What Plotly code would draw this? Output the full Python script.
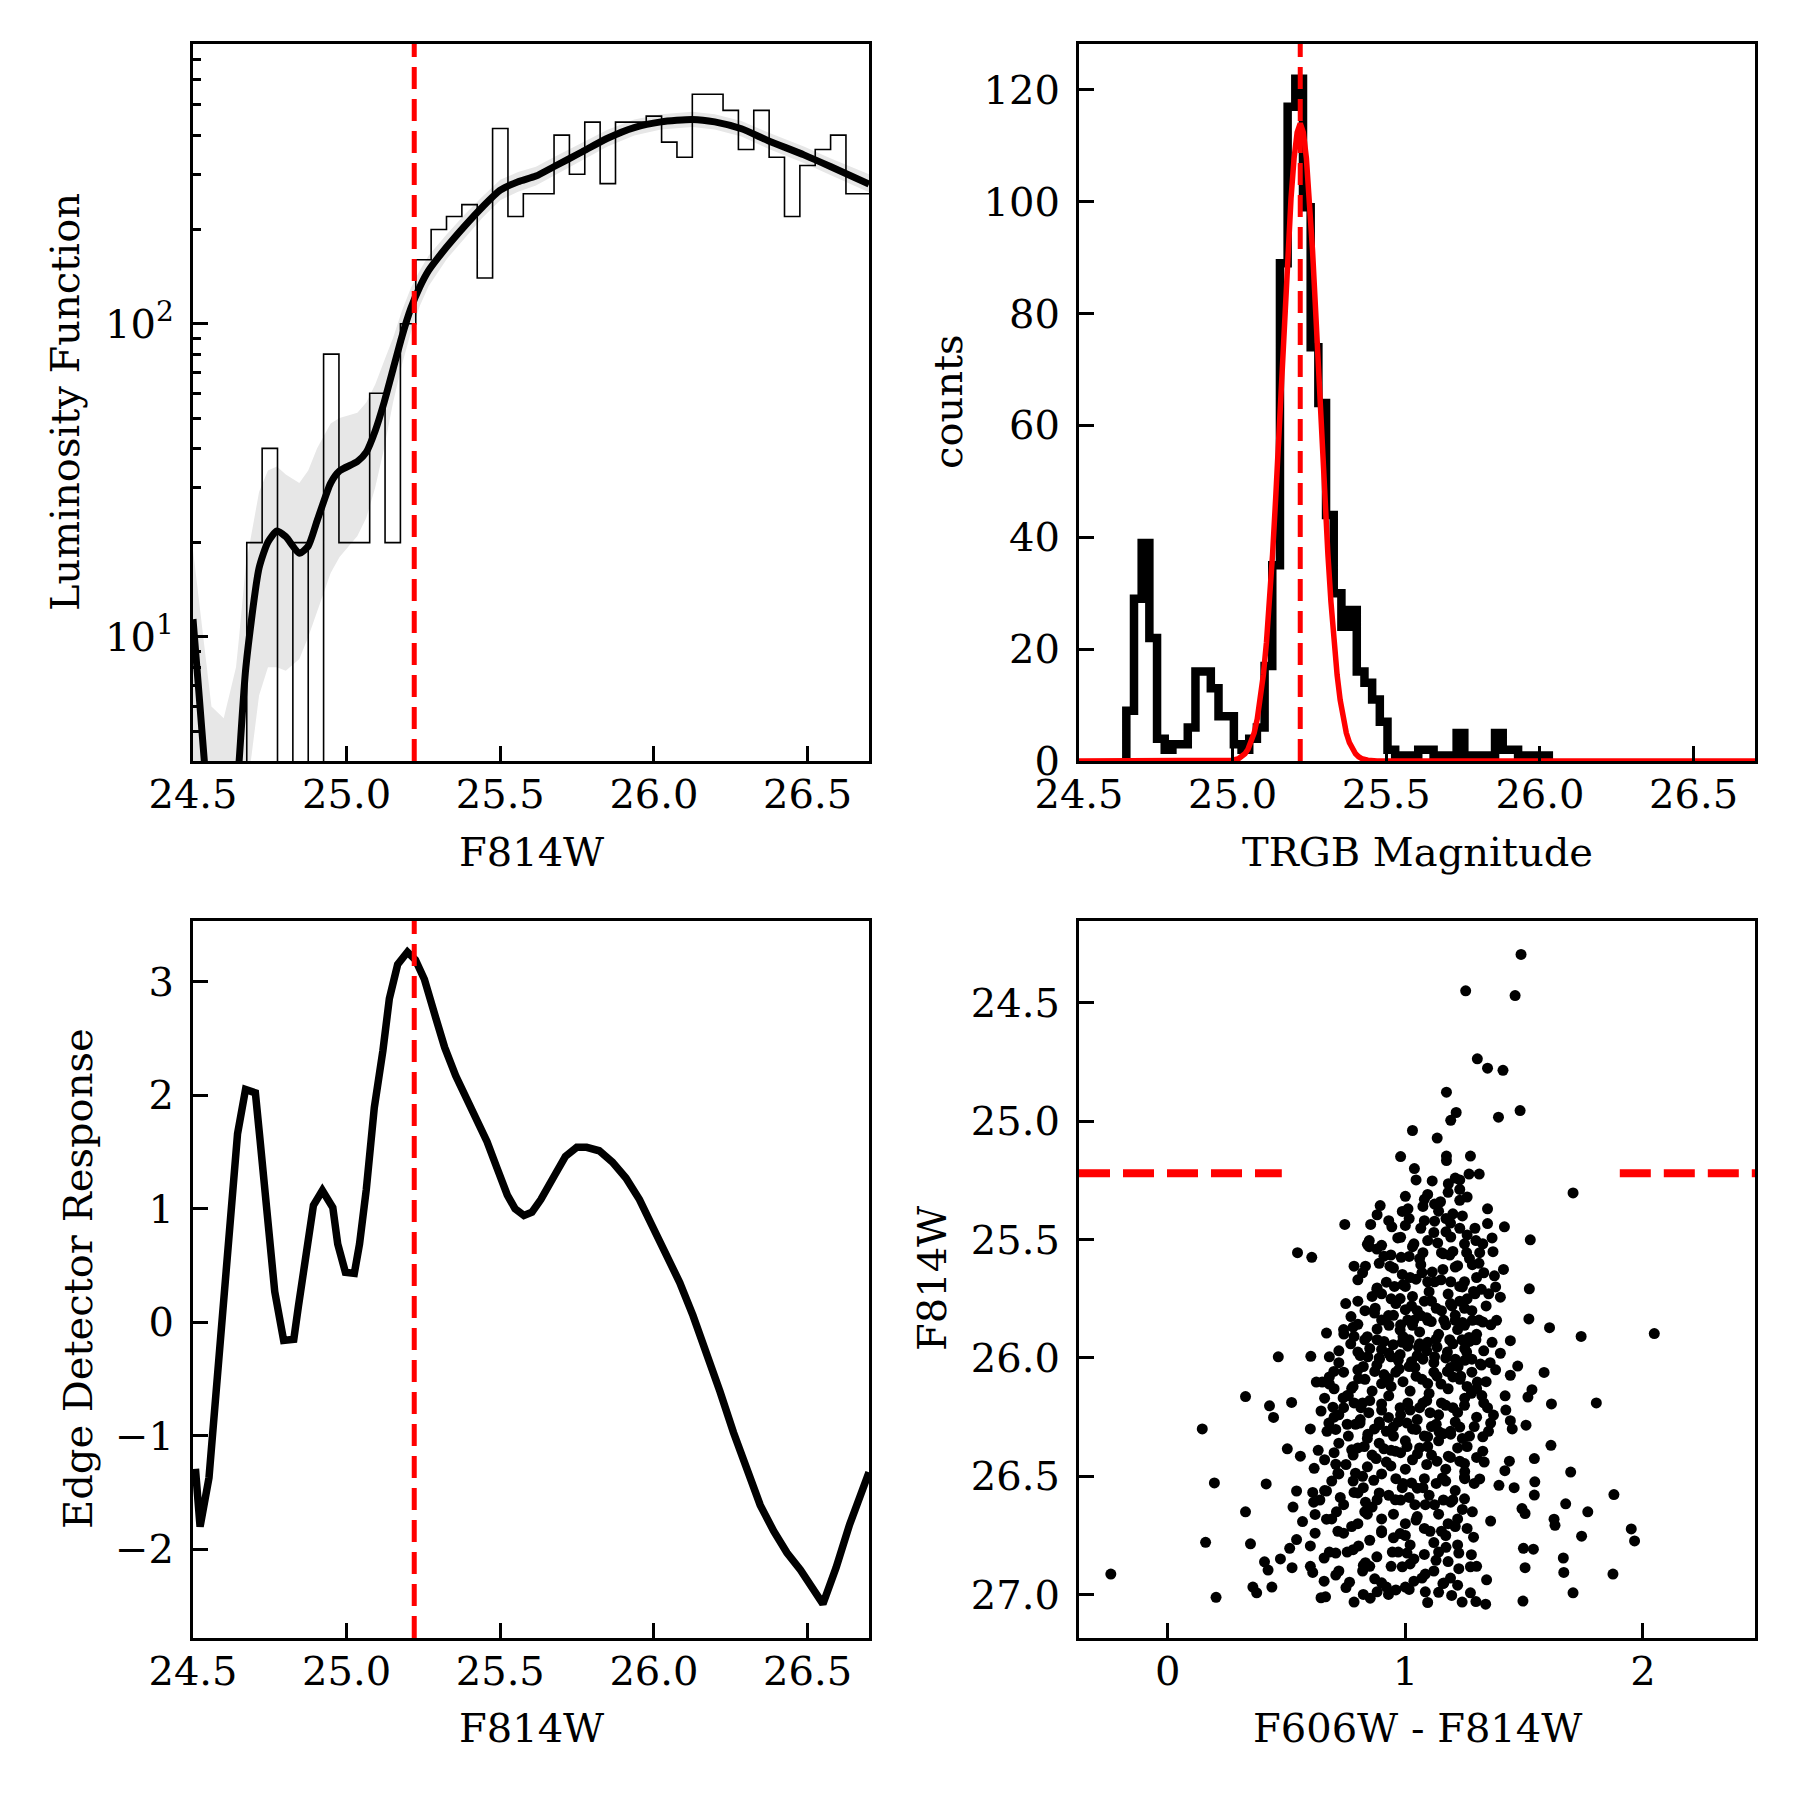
import numpy as np
import plotly.graph_objects as go

TRGB = 25.22

# ---------------- top-left: luminosity function ----------------
lf_bin_left = [24.675 + 0.05 * k for k in range(41)]
lf_values = [20, 40, 0, 20, 0, 80, 20, 20, 60, 20, 100, 160, 200, 220, 240, 140, 420, 220, 260, 260,
             400, 300, 440, 280, 440, 440, 460, 380, 340, 540, 540, 480, 360, 480, 340, 220, 320, 360,
             400, 260, 260]
kde_x = [24.50, 24.52, 24.537, 24.56, 24.60, 24.64, 24.65, 24.672, 24.715, 24.744, 24.773, 24.802,
         24.846, 24.875, 24.904, 24.948, 24.977, 25.035, 25.064, 25.093, 25.122, 25.151, 25.180,
         25.209, 25.238, 25.267, 25.326, 25.384, 25.442, 25.500, 25.558, 25.616, 25.674, 25.762,
         25.849, 25.936, 26.023, 26.125, 26.198, 26.285, 26.372, 26.488, 26.576, 26.70]
kde_y = [11.4, 6.5, 4.0, 2.2, 1.2, 3.0, 4.0, 8.0, 16.6, 20.1, 21.8, 20.9, 18.5, 19.5, 23.5, 31.0, 33.9,
         36.3, 38.9, 45.5, 56.1, 71.5, 91.1, 112, 131, 148, 176, 205, 236, 267, 284, 296, 317, 352,
         391, 423, 441, 449, 441, 419, 384, 346, 317, 279]
kde_lo = [0.5, 0.5, 0.5, 0.5, 0.5, 0.8, 1.2, 3.0, 6.5, 8.0, 8.0, 7.8, 8.5, 10.0, 12, 16, 18, 21, 24, 30,
          40, 56, 74, 94, 114, 132, 161, 188, 218, 248, 264, 276, 296, 330, 368, 399, 417, 425, 417,
          396, 362, 326, 298, 263]
kde_hi = [19, 13, 9, 6, 5.5, 8, 10, 17, 29, 34, 35, 33, 31, 34, 40, 48, 50, 52, 56, 64, 76, 90, 110,
          130, 148, 165, 193, 223, 255, 288, 305, 317, 340, 376, 416, 449, 466, 475, 466, 444, 408,
          368, 337, 300]

# ---------------- top-right: TRGB histogram ----------------
trgb_bin_left = [24.654 + 0.025 * k for k in range(55)]
trgb_counts = [9, 29, 39, 22, 4, 2, 3, 3, 6, 16, 16, 13, 8, 8, 3, 2, 4, 6, 17, 35, 89, 117, 122, 99,
               74, 64, 44, 30, 24, 27, 16, 14, 11, 7, 2, 1, 1, 1, 2, 2, 1, 1, 1, 5, 1, 1, 1, 1, 5, 2,
               2, 1, 1, 1, 1]
gauss_x = [24.50, 24.90, 24.97, 25.00, 25.02, 25.03, 25.04, 25.05, 25.06, 25.07, 25.08, 25.09, 25.10,
           25.11, 25.12, 25.13, 25.14, 25.15, 25.16, 25.17, 25.18, 25.19, 25.20, 25.21, 25.22, 25.23,
           25.24, 25.25, 25.26, 25.27, 25.28, 25.29, 25.30, 25.31, 25.32, 25.33, 25.34, 25.35, 25.36,
           25.37, 25.38, 25.39, 25.40, 25.41, 25.42, 25.44, 25.47, 25.55, 26.70]
gauss_y = [0, 0, 0.02, 0.14, 0.44, 0.76, 1.3, 2.1, 3.3, 5.0, 7.5, 10.9, 15.4, 21.2, 28.4, 37.0, 46.9,
           57.7, 69.1, 80.6, 91.3, 100.6, 107.8, 112.4, 114.0, 112.4, 107.8, 100.6, 91.3, 80.6, 69.1,
           57.7, 46.9, 37.0, 28.4, 21.2, 15.4, 10.9, 7.5, 5.0, 3.3, 2.1, 1.3, 0.76, 0.44, 0.14, 0.02,
           0, 0]

# ---------------- bottom-left: edge detector ----------------
edge_x = [24.508, 24.523, 24.552, 24.598, 24.645, 24.671, 24.703, 24.718, 24.766, 24.795, 24.828,
          24.843, 24.870, 24.892, 24.921, 24.955, 24.971, 24.996, 25.025, 25.042, 25.064, 25.090,
          25.118, 25.139, 25.166, 25.198, 25.224, 25.253, 25.290, 25.319, 25.355, 25.399, 25.428,
          25.457, 25.489, 25.523, 25.548, 25.577, 25.603, 25.632, 25.676, 25.712, 25.749, 25.781,
          25.822, 25.865, 25.909, 25.953, 25.996, 26.040, 26.084, 26.127, 26.171, 26.215, 26.259,
          26.302, 26.346, 26.390, 26.433, 26.477, 26.521, 26.550, 26.593, 26.637, 26.70]
edge_y = [-1.29, -1.80, -1.37, 0.23, 1.66, 2.05, 2.02, 1.61, 0.27, -0.16, -0.15, 0.14, 0.67, 1.03,
          1.16, 1.01, 0.69, 0.44, 0.43, 0.69, 1.17, 1.89, 2.39, 2.85, 3.15, 3.26, 3.19, 3.02, 2.68,
          2.42, 2.17, 1.93, 1.78, 1.59, 1.36, 1.12, 1.00, 0.94, 0.97, 1.08, 1.29, 1.46, 1.54, 1.54,
          1.51, 1.41, 1.27, 1.08, 0.84, 0.61, 0.35, 0.06, -0.26, -0.61, -0.97, -1.31, -1.61, -1.84,
          -2.03, -2.18, -2.35, -2.48, -2.16, -1.78, -1.32]

# ---------------- bottom-right: CMD ----------------
cmd_color = [1.487, 1.254, 1.462, 1.303, 1.346, 1.411, 1.173, 1.214, 1.191, 1.483, 1.392, 1.030, 1.134,
             0.980, 1.173, 1.274, 1.173, 1.038, 1.045, 1.113, 1.181, 1.229, 1.268, 1.311, 1.706, 1.000,
             1.094, 1.229, 1.148, 1.123, 1.074, 1.011, 1.229, 1.346, 0.894, 0.881, 0.987, 1.016, 1.200,
             1.171, 0.745, 0.854, 0.943, 1.065, 1.123, 1.171, 1.229, 1.293, 1.346, 1.417, 0.848, 0.900,
             0.968, 1.036, 1.094, 1.136, 1.191, 1.249, 1.297, 1.326, 1.365, 1.526, 0.848, 0.939, 0.982,
             1.016, 1.074, 1.152, 1.187, 1.258, 1.313, 1.369, 0.546, 0.606, 0.784, 0.832, 0.935, 1.065,
             1.113, 1.158, 1.210, 1.282, 1.413, 1.375, 0.987, 1.045, 1.094, 0.881, 0.954, 1.000, 1.080,
             1.123, 1.191, 1.229, 1.249, 1.293, 1.351, 1.400, 1.522, 0.749, 0.900, 0.978, 1.026, 1.065,
             1.094, 1.152, 1.196, 1.229, 1.249, 1.287, 0.873, 0.929, 1.000, 1.030, 0.771, 0.800, 0.881,
             0.931, 0.978, 1.036, 1.109, 1.162, 1.210, 1.249, 1.282, 1.326, 1.384, 1.520, 1.607, 1.740,
             2.048, 0.668, 0.741, 0.784, 0.829, 0.881, 0.900, 0.949, 0.987, 1.016, 1.055, 1.094, 1.133,
             1.187, 1.239, 1.268, 1.297, 1.365, 1.442, 0.465, 0.602, 0.680, 0.800, 0.842, 0.891, 0.939,
             0.978, 1.026, 1.074, 1.123, 1.177, 1.210, 1.258, 1.280, 1.316, 1.357, 1.473, 0.625, 0.650,
             0.699, 0.738, 0.774, 0.803, 0.823, 0.871, 0.900, 0.929, 0.974, 1.016, 1.045, 1.094, 1.133,
             1.177, 1.222, 1.233, 1.303, 1.442, 1.584, 0.327, 0.428, 0.445, 0.521, 0.645, 0.695, 0.755,
             0.784, 0.813, 0.846, 0.900, 0.929, 0.978, 1.020, 1.074, 1.104, 1.152, 1.200, 1.249, 1.278,
             1.322, 1.346, 1.371, 1.423, 1.442, 1.516, 1.533, 1.615, 1.804, 0.678, 0.707, 0.755, 0.809,
             0.842, 0.891, 0.949, 1.007, 1.045, 1.094, 1.142, 1.191, 1.229, 1.260, 1.326, 1.359, 1.508,
             0.145, 0.503, 0.558, 0.633, 0.774, 0.827, 0.877, 0.910, 0.958, 1.007, 1.051, 1.094, 1.133,
             1.181, 1.229, 1.249, 1.326, 1.332, 1.419, 1.438, 1.543, 1.613, 1.696, 0.616, 0.707, 0.716,
             0.790, 0.823, 0.867, 0.939, 0.987, 1.026, 1.074, 1.156, 1.249, 1.313, 1.394, 1.458, 1.545,
             1.878, 0.196, 0.414, 0.542, 0.610, 0.668, 0.726, 0.784, 0.832, 0.881, 0.958, 1.016, 1.084,
             1.123, 1.191, 1.249, 1.282, 1.359, 1.491, 1.504, 1.543, 1.675, 1.768, 0.327, 0.527, 0.614,
             0.567, 0.620, 0.668, 0.716, 0.774, 0.829, 0.900, 0.978, 1.045, 1.104, 1.152, 1.210, 1.287,
             1.626, 1.630, 1.742, 1.951, 1.965, 0.159, 0.348, 0.542, 0.513, 0.600, 0.658, 0.707, 0.755,
             0.803, 0.832, 0.945, 1.007, 1.036, 1.129, 1.171, 1.225, 1.278, 1.497, 1.539, 1.665, -0.240,
             0.407, 0.422, 0.474, 0.523, 0.610, 0.658, 0.707, 0.765, 0.823, 0.871, 0.920, 0.987, 1.036,
             1.084, 1.162, 1.225, 1.274, 1.342, 1.504, 1.667, 1.874, 0.203, 0.358, 0.374, 0.438, 0.645,
             0.664, 0.784, 0.823, 0.852, 0.881, 0.929, 1.000, 1.016, 1.084, 1.094, 1.158, 1.195, 1.239,
             1.274, 1.297, 1.338, 1.495, 1.706,
             0.95, 1.02, 1.10, 1.18, 1.24, 1.30, 0.92, 0.86, 0.96, 1.05, 1.13, 1.21, 1.28, 1.34, 0.83,
             0.90, 0.98, 1.06, 1.14, 1.22, 1.30, 0.77, 0.85, 0.93, 1.01, 1.09, 1.17, 1.25, 1.33, 0.72,
             0.80, 0.88, 0.96, 1.04, 1.12, 1.20, 1.28, 1.38, 0.70, 0.78, 0.86, 0.94, 1.02, 1.10, 1.18,
             1.26, 1.34, 0.66, 0.74, 0.82, 0.90, 0.98, 1.06, 1.14, 1.22, 1.30, 0.70, 0.79, 0.87, 0.95,
             1.03, 1.11, 1.19, 1.27, 1.35, 0.72, 0.80, 0.89, 0.98, 1.06, 1.14, 1.22, 1.30, 0.66, 0.75,
             0.84, 0.92, 1.00, 1.09, 1.17, 1.25, 0.69, 0.78, 0.96, 1.05, 1.13, 1.21, 1.29, 0.64, 0.74,
             0.86, 0.93, 1.04, 1.16, 1.24, 0.69, 0.80, 0.90, 1.00, 1.08, 1.18, 1.26, 0.62, 0.85, 0.95,
             1.02, 1.12, 1.22, 0.68, 0.88, 1.08, 1.18, 0.72, 0.82, 0.94, 1.12, 1.30, 0.60, 0.75, 0.96,
             1.14, 1.22, 0.88, 1.20, 1.06, 0.98, 1.12, 1.26, 1.08, 1.19, 1.00, 1.14, 1.24, 0.93, 1.26,
             1.18, 1.08, 1.21, 0.89, 1.31, 1.38, 0.80, 1.36, 0.74, 1.40, 0.68, 1.42, 0.60, 1.45,
             0.84, 0.91, 1.03, 1.16, 1.27, 1.33, 0.82, 0.99, 1.07, 1.15, 1.22, 0.88, 0.94, 1.03, 1.11,
             1.19, 1.26, 1.32, 0.80, 0.87, 0.95, 1.01, 1.09, 1.17, 1.24, 1.31, 0.78, 0.84, 0.91, 0.99,
             1.06, 1.13, 1.20, 1.27, 0.72, 0.81, 0.89, 0.97, 1.05, 1.12, 1.19, 1.25, 1.32, 0.74, 0.83,
             0.91, 0.99, 1.07, 1.15, 1.23, 1.30, 0.68, 0.76, 0.85, 0.93, 1.01, 1.09, 1.17, 1.25, 1.33,
             0.72, 0.81, 0.89, 0.97, 1.05, 1.13, 1.21, 1.29, 0.67, 0.76, 0.84, 0.92, 1.00, 1.08, 1.16,
             1.24, 0.70, 0.78, 0.86, 0.94, 1.03, 1.11, 1.19, 0.72, 0.82, 0.90, 0.99, 1.08, 1.17, 1.25,
             0.66, 0.80, 0.89, 0.98, 1.10, 1.20, 0.71, 0.84, 0.95, 1.05, 1.14, 1.22, 0.74, 0.90, 1.00,
             1.17, 0.78, 0.97, 1.14, 0.85, 1.02, 1.07, 0.90, 1.19]
cmd_mag = [24.295, 24.449, 24.469, 24.736, 24.776, 24.785, 24.877, 24.963, 24.996, 24.955, 24.983,
           25.039, 25.071, 25.149, 25.147, 25.147, 25.166, 25.200, 25.248, 25.252, 25.264, 25.248,
           25.223, 25.223, 25.303, 25.317, 25.309, 25.288, 25.340, 25.350, 25.360, 25.370, 25.334,
           25.370, 25.356, 25.395, 25.381, 25.411, 25.391, 25.411, 25.436, 25.436, 25.446, 25.452,
           25.422, 25.467, 25.452, 25.452, 25.432, 25.446, 25.504, 25.524, 25.493, 25.518, 25.504,
           25.514, 25.489, 25.518, 25.504, 25.518, 25.493, 25.501, 25.530, 25.565, 25.575, 25.571,
           25.555, 25.555, 25.565, 25.555, 25.555, 25.551, 25.555, 25.575, 25.612, 25.612, 25.612,
           25.606, 25.637, 25.626, 25.616, 25.606, 25.626, 25.653, 25.647, 25.667, 25.678, 25.704,
           25.698, 25.698, 25.760, 25.678, 25.678, 25.698, 25.678, 25.729, 25.729, 25.743, 25.708,
           25.770, 25.729, 25.749, 25.780, 25.821, 25.841, 25.800, 25.780, 25.760, 25.790, 25.719,
           25.790, 25.821, 25.796, 25.862, 25.825, 25.858, 25.878, 25.862, 25.882, 25.841, 25.846,
           25.841, 25.841, 25.862, 25.841, 25.848, 25.841, 25.835, 25.872, 25.909, 25.897, 25.895,
           25.899, 25.909, 25.923, 25.923, 25.964, 25.944, 25.934, 25.923, 25.954, 25.934, 25.954,
           25.923, 25.923, 25.913, 25.923, 25.934, 25.927, 25.995, 25.993, 25.995, 25.975, 25.995,
           26.005, 25.995, 25.985, 26.016, 26.005, 25.995, 25.975, 26.005, 25.975, 26.005, 26.026,
           26.020, 26.034, 26.102, 26.102, 26.057, 26.169, 26.128, 26.087, 26.036, 26.057, 26.108,
           26.087, 26.046, 26.036, 26.077, 26.108, 26.077, 26.057, 26.036, 26.077, 26.102, 26.073,
           26.061, 26.163, 26.202, 26.251, 26.188, 26.224, 26.208, 26.159, 26.190, 26.210, 26.231,
           26.194, 26.251, 26.210, 26.220, 26.190, 26.231, 26.190, 26.210, 26.200, 26.149, 26.159,
           26.210, 26.241, 26.220, 26.265, 26.165, 26.134, 26.194, 26.190, 26.275, 26.302, 26.280,
           26.275, 26.322, 26.282, 26.292, 26.275, 26.302, 26.333, 26.312, 26.322, 26.292, 26.374,
           26.333, 26.275, 26.284, 26.300, 26.384, 26.415, 26.390, 26.388, 26.374, 26.425, 26.384,
           26.394, 26.374, 26.405, 26.374, 26.436, 26.415, 26.436, 26.446, 26.394, 26.440, 26.476,
           26.436, 26.425, 26.369, 26.482, 26.466, 26.449, 26.487, 26.487, 26.548, 26.517, 26.456,
           26.548, 26.528, 26.548, 26.507, 26.503, 26.511, 26.538, 26.548, 26.523, 26.577, 26.528,
           26.532, 26.562, 26.568, 26.562, 26.589, 26.568, 26.609, 26.599, 26.599, 26.589, 26.620,
           26.620, 26.609, 26.595, 26.650, 26.689, 26.636, 26.657, 26.579, 26.616, 26.650, 26.650,
           26.630, 26.609, 26.691, 26.661, 26.681, 26.732, 26.712, 26.650, 26.738, 26.742, 26.685,
           26.732, 26.732, 26.712, 26.757, 26.681, 26.707, 26.753, 26.722, 26.773, 26.779, 26.785,
           26.767, 26.804, 26.794, 26.845, 26.824, 26.820, 26.794, 26.865, 26.820, 26.824, 26.849,
           26.855, 26.800, 26.824, 26.831, 26.804, 26.808, 26.845, 26.913, 26.861, 26.896, 26.849,
           26.886, 26.906, 26.943, 26.917, 26.947, 26.876, 26.933, 26.968, 26.882, 26.943, 26.913,
           26.951, 26.890, 26.882, 26.937, 26.886, 26.906, 26.913, 27.011, 26.968, 26.992, 26.968,
           27.013, 27.009, 27.031, 26.999, 27.015, 26.988, 26.999, 26.968, 26.978, 26.988, 27.033,
           26.953, 27.003, 27.031, 26.992, 27.029, 27.040, 27.027, 26.992,
           25.62, 25.66, 25.72, 25.73, 25.70, 25.66, 25.68, 25.74, 25.77, 25.80, 25.79, 25.82, 25.80,
           25.78, 25.80, 25.84, 25.86, 25.89, 25.90, 25.88, 25.90, 25.94, 25.96, 25.98, 25.95, 25.97,
           26.00, 25.96, 25.97, 26.02, 26.05, 26.03, 26.06, 26.04, 26.06, 26.08, 26.06, 26.05, 26.13,
           26.12, 26.14, 26.12, 26.14, 26.15, 26.13, 26.12, 26.10, 26.17, 26.21, 26.19, 26.22, 26.24,
           26.21, 26.24, 26.23, 26.25, 26.25, 26.28, 26.30, 26.33, 26.30, 26.29, 26.31, 26.33, 26.31,
           26.36, 26.38, 26.36, 26.40, 26.38, 26.35, 26.38, 26.42, 26.43, 26.45, 26.46, 26.44, 26.47,
           26.45, 26.47, 26.48, 26.52, 26.52, 26.51, 26.55, 26.53, 26.56, 26.53, 26.60, 26.62, 26.63,
           26.58, 26.62, 26.60, 26.64, 26.68, 26.70, 26.68, 26.70, 26.72, 26.70, 26.72, 26.74, 26.77,
           26.76, 26.79, 26.78, 26.79, 26.82, 26.84, 26.83, 26.86, 26.90, 26.90, 26.88, 26.90, 26.88,
           26.88, 26.97, 26.98, 26.99, 26.96, 25.54, 25.55, 25.58, 25.49, 25.47, 25.48, 25.42, 25.43,
           25.44, 25.38, 25.40, 25.42, 25.32, 25.30, 25.33, 25.24, 25.60, 25.60, 25.70, 25.67, 25.86,
           25.88, 25.98, 26.08, 26.16, 26.30, 26.30,
           25.52, 25.57, 25.53, 25.56, 25.58, 25.64, 25.64, 25.69, 25.64, 25.67, 25.61, 25.71, 25.75,
           25.74, 25.76, 25.77, 25.75, 25.71, 25.76, 25.81, 25.82, 25.84, 25.83, 25.86, 25.85, 25.84,
           25.87, 25.91, 25.93, 25.91, 25.94, 25.92, 25.94, 25.93, 25.97, 25.99, 26.00, 26.01, 25.99,
           26.02, 26.04, 26.01, 26.03, 26.06, 26.09, 26.07, 26.10, 26.09, 26.11, 26.09, 26.13, 26.11,
           26.16, 26.18, 26.16, 26.19, 26.18, 26.20, 26.17, 26.19, 26.24, 26.26, 26.27, 26.27, 26.26,
           26.28, 26.27, 26.29, 26.31, 26.33, 26.34, 26.31, 26.35, 26.33, 26.32, 26.34, 26.40, 26.41,
           26.41, 26.39, 26.43, 26.41, 26.42, 26.49, 26.50, 26.49, 26.53, 26.51, 26.52, 26.51, 26.56,
           26.57, 26.57, 26.60, 26.58, 26.60, 26.65, 26.66, 26.66, 26.67, 26.66, 26.68, 26.74, 26.73,
           26.75, 26.75, 26.81, 26.82, 26.82, 26.88, 26.87, 26.93, 26.95, 26.93]

FONT = "DejaVu Serif"
FS = 40
SPINE = 3.3
TICKLEN = 15
RED = "#ff0000"
W = 1800
OFF = 8  # page body margin of the html page


def fx(px):
    return (px - OFF) / W


def fy(py):
    return 1 - (py - OFF) / W


fig = go.Figure()

# ---- top-left
lf_x = [lf_bin_left[0]] + lf_bin_left + [lf_bin_left[-1] + 0.05]
lf_y = [1e-3] + [v if v > 0 else 1e-3 for v in lf_values] + [1e-3]
fig.add_trace(go.Scatter(x=kde_x + kde_x[::-1], y=kde_hi + kde_lo[::-1], fill="toself",
                         fillcolor="rgb(231,231,231)", line=dict(width=0), mode="lines",
                         xaxis="x", yaxis="y", hoverinfo="skip"))
fig.add_trace(go.Scatter(x=lf_x, y=lf_y, mode="lines", line=dict(color="black", width=1.6, shape="hv"),
                         xaxis="x", yaxis="y"))
fig.add_trace(go.Scatter(x=kde_x, y=kde_y, mode="lines",
                         line=dict(color="black", width=7, shape="spline", smoothing=0.6),
                         xaxis="x", yaxis="y"))

# ---- top-right
tb_edges = trgb_bin_left + [trgb_bin_left[-1] + 0.025]
tx = [tb_edges[0]] + tb_edges
ty = [0] + trgb_counts + [0]
fig.add_trace(go.Scatter(x=tx, y=ty, mode="lines", line=dict(color="black", width=8.5, shape="hv"),
                         xaxis="x2", yaxis="y2"))
fig.add_trace(go.Scatter(x=gauss_x, y=gauss_y, mode="lines", line=dict(color=RED, width=5.5),
                         xaxis="x2", yaxis="y2"))

# ---- bottom-left
fig.add_trace(go.Scatter(x=edge_x, y=edge_y, mode="lines", line=dict(color="black", width=7.5),
                         xaxis="x3", yaxis="y3"))

# ---- bottom-right
fig.add_trace(go.Scatter(x=cmd_color, y=cmd_mag, mode="markers",
                         marker=dict(color="black", size=11, line=dict(width=0)),
                         xaxis="x4", yaxis="y4"))

# red dashed lines
for xr, yr in [("x", "y domain"), ("x2", "y2 domain"), ("x3", "y3 domain")]:
    fig.add_shape(type="line", xref=xr, yref=yr, x0=TRGB, x1=TRGB, y0=0, y1=1,
                  line=dict(color=RED, width=5, dash="22px,10px"), layer="above")
fig.add_shape(type="line", xref="x4 domain", yref="y4", x0=0, x1=0.3, y0=TRGB, y1=TRGB,
              line=dict(color=RED, width=8, dash="31px,13px"), layer="above")
fig.add_shape(type="line", xref="x4 domain", yref="y4", x0=0.8, x1=1.0, y0=TRGB, y1=TRGB,
              line=dict(color=RED, width=8, dash="31px,13px"), layer="above")

XL = [fx(193), fx(869)]
XR = [fx(1079), fx(1755)]
YT = [fy(761), fy(44)]
YB = [fy(1638), fy(921)]

common = dict(showline=True, linecolor="black", linewidth=SPINE, mirror=True, ticks="inside",
              ticklen=TICKLEN, tickwidth=SPINE, tickcolor="black", showgrid=False, zeroline=False,
              automargin=False, tickfont=dict(family=FONT, size=FS, color="black"))
xcommon = dict(common, ticklabelstandoff=-4)
ycommon = dict(common, ticklabelstandoff=8)
mag_ticks = dict(tickvals=[24.5, 25.0, 25.5, 26.0, 26.5], ticktext=["24.5", "25.0", "25.5", "26.0", "26.5"],
                 tickmode="array", range=[24.5, 26.7])

fig.update_layout(
    width=W, height=W, margin=dict(l=0, r=0, t=0, b=0, pad=0, autoexpand=False),
    paper_bgcolor="white", plot_bgcolor="white", showlegend=False,
    xaxis=dict(domain=XL, anchor="y", **mag_ticks, **xcommon),
    yaxis=dict(domain=YT, anchor="x", type="log", range=[0.604, 2.893], tickmode="array",
               tickvals=[10, 100], ticktext=["10<sup>1</sup>", "10<sup>2</sup>"],
               minor=dict(tickmode="array",
                          tickvals=[5, 6, 7, 8, 9, 20, 30, 40, 50, 60, 70, 80, 90, 200, 300, 400, 500,
                                    600, 700],
                          ticks="inside", ticklen=8, tickwidth=2.5, tickcolor="black", showgrid=False),
               **ycommon),
    xaxis2=dict(domain=XR, anchor="y2", **mag_ticks, **xcommon),
    yaxis2=dict(domain=YT, anchor="x2", range=[0, 128.2], tickmode="array",
                tickvals=[0, 20, 40, 60, 80, 100, 120], **ycommon),
    xaxis3=dict(domain=XL, anchor="y3", **mag_ticks, **xcommon),
    yaxis3=dict(domain=YB, anchor="x3", range=[-2.78, 3.533], tickmode="array",
                tickvals=[-2, -1, 0, 1, 2, 3], **ycommon),
    xaxis4=dict(domain=XR, anchor="y4", range=[-0.374, 2.472], tickmode="array", tickvals=[0, 1, 2],
                **xcommon),
    yaxis4=dict(domain=YB, anchor="x4", range=[27.183, 24.154], tickmode="array",
                tickvals=[24.5, 25.0, 25.5, 26.0, 26.5, 27.0],
                ticktext=["24.5", "25.0", "25.5", "26.0", "26.5", "27.0"], **ycommon),
)

titles = [
    ("F814W", 531, 852, 0),
    ("TRGB Magnitude", 1417, 852, 0),
    ("F814W", 531, 1728, 0),
    ("F606W - F814W", 1417, 1728, 0),
    ("Luminosity Function", 65, 402, -90),
    ("counts", 948, 402, -90),
    ("Edge Detector Response", 78, 1279, -90),
    ("F814W", 932, 1279, -90),
]
for text, px, py, ang in titles:
    fig.add_annotation(text=text, x=fx(px), y=fy(py), xref="paper", yref="paper", showarrow=False,
                       xanchor="center", yanchor="middle", textangle=ang,
                       font=dict(family=FONT, size=FS, color="black"))

fig.write_html("out.html")
